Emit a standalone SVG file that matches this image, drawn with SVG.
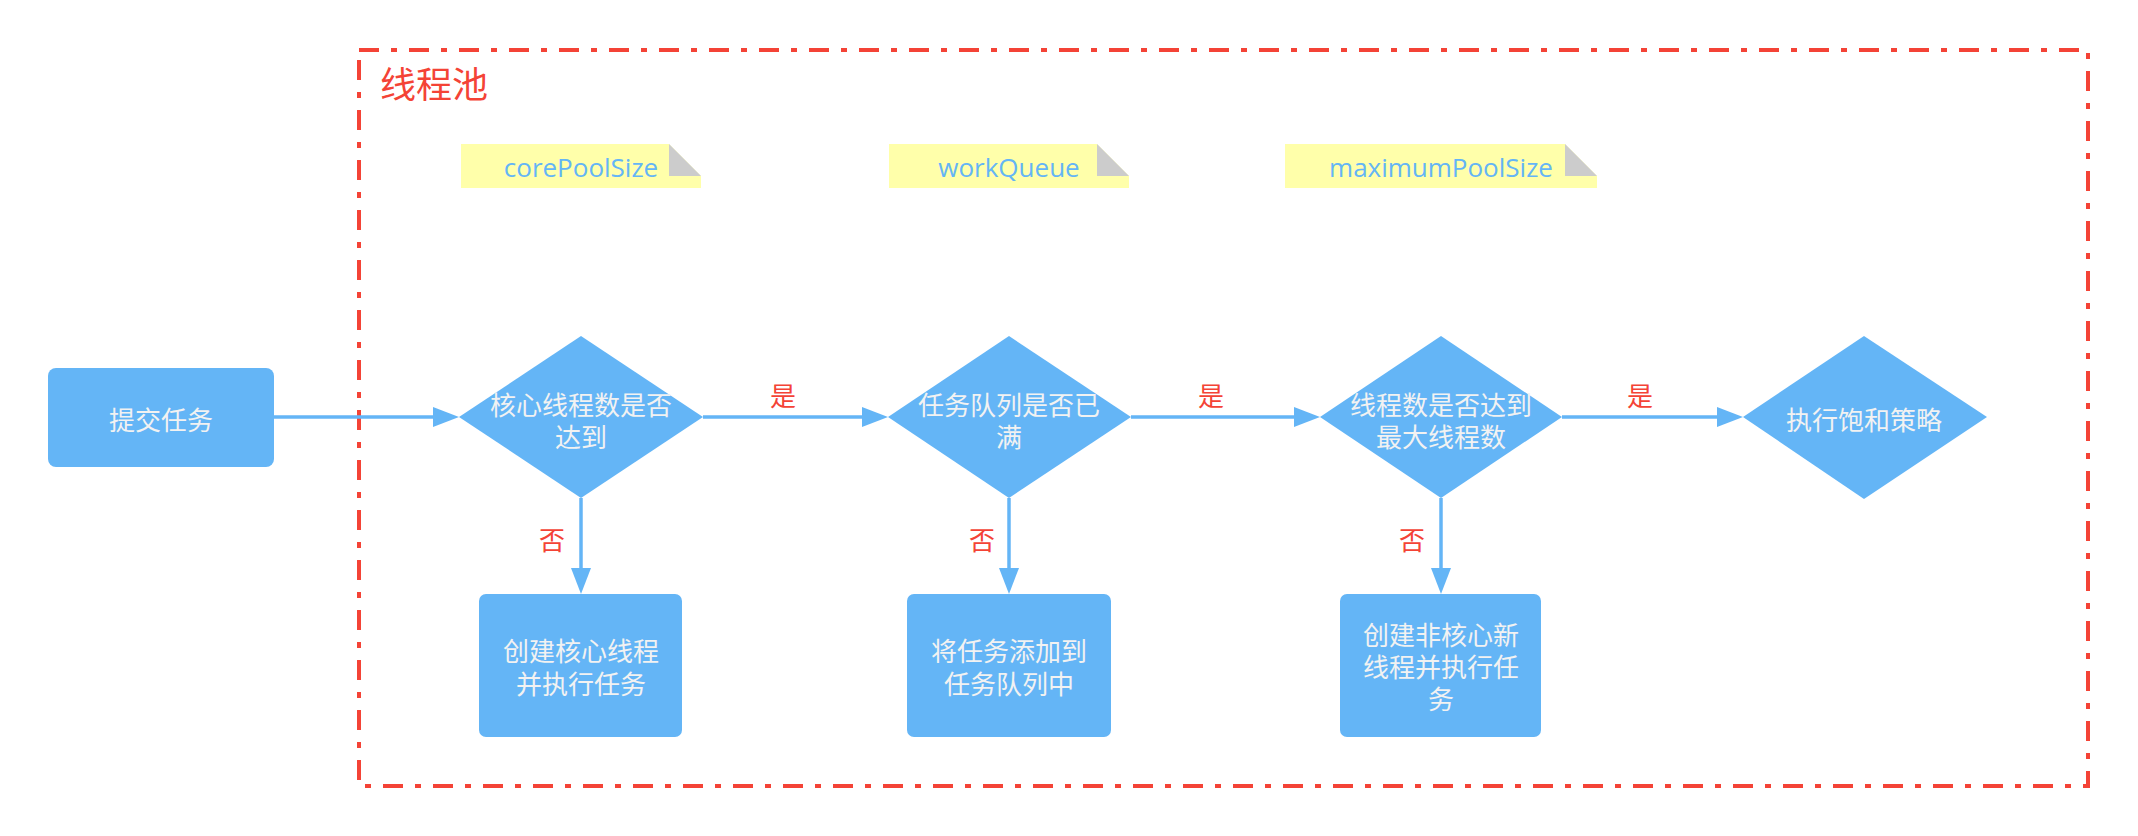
<svg xmlns="http://www.w3.org/2000/svg" width="2138" height="836" viewBox="0 0 2138 836">
<style>
.shape{fill:#64b5f6;}
.t{font-family:"Noto Sans CJK SC","Noto Sans",sans-serif;font-size:26px;fill:#f2f2f2;text-anchor:middle;}
.lbl{font-family:"Noto Sans CJK SC","Noto Sans",sans-serif;font-size:26px;fill:#f44336;text-anchor:middle;}
.note{fill:#ffffaa;}
.fold{fill:#cccccc;}
.nt{font-family:"Open Sans","Noto Sans",sans-serif;font-size:26px;fill:#64b5f6;text-anchor:middle;}
.conn{stroke:#64b5f6;stroke-width:3.5;fill:none;}
.frame{stroke:#f44336;stroke-width:4;fill:none;stroke-dasharray:20 12 6 12;}
</style>
<defs>
<marker id="arr" markerUnits="userSpaceOnUse" markerWidth="26" markerHeight="20" viewBox="0 0 26 20" refX="0" refY="10" orient="auto">
<path d="M0,0 L26,10 L0,20 Z" fill="#64b5f6"/>
</marker>
</defs>
<rect width="2138" height="836" fill="#ffffff"/>

<g id="pool">
<path class="frame" d="M359,50 L2088,50 L2088,786 L359,786 Z"/>
<text x="380" y="98" font-family="Noto Sans CJK SC,Noto Sans,sans-serif" font-size="36" fill="#f44336">线程池</text>
</g>

<g id="note-corePoolSize">
<polygon class="note" points="461,144 669,144 701,176 701,188 461,188"/>
<polygon class="fold" points="669,144 669,176 701,176"/>
<text class="nt" x="581" y="177">corePoolSize</text>
</g>
<g id="note-workQueue">
<polygon class="note" points="889,144 1097,144 1129,176 1129,188 889,188"/>
<polygon class="fold" points="1097,144 1097,176 1129,176"/>
<text class="nt" x="1009" y="177">workQueue</text>
</g>
<g id="note-maximumPoolSize">
<polygon class="note" points="1285,144 1565,144 1597,176 1597,188 1285,188"/>
<polygon class="fold" points="1565,144 1565,176 1597,176"/>
<text class="nt" x="1441" y="177">maximumPoolSize</text>
</g>

<g id="submit">
<rect class="shape" x="48" y="368" width="226" height="99" rx="8"/>
<text class="t" x="161" y="430">提交任务</text>
</g>

<g id="d-core">
<polygon class="shape" points="581,336 703,417 581,498 459,417"/>
<text class="t" x="581" y="415">核心线程数是否<tspan x="581" dy="32">达到</tspan></text>
</g>
<g id="d-queue">
<polygon class="shape" points="1009,336 1131,417 1009,498 888,417"/>
<text class="t" x="1009" y="415">任务队列是否已<tspan x="1009" dy="32">满</tspan></text>
</g>
<g id="d-max">
<polygon class="shape" points="1441,336 1562,417 1441,498 1320,417"/>
<text class="t" x="1441" y="415">线程数是否达到<tspan x="1441" dy="32">最大线程数</tspan></text>
</g>
<g id="d-reject">
<polygon class="shape" points="1864,336 1987,417 1864,499 1743,417"/>
<text class="t" x="1864" y="430">执行饱和策略</text>
</g>

<g id="b-core">
<rect class="shape" x="479" y="594" width="203" height="143" rx="7"/>
<text class="t" x="581" y="661">创建核心线程<tspan x="581" dy="33">并执行任务</tspan></text>
</g>
<g id="b-queue">
<rect class="shape" x="907" y="594" width="204" height="143" rx="7"/>
<text class="t" x="1009" y="661">将任务添加到<tspan x="1009" dy="33">任务队列中</tspan></text>
</g>
<g id="b-max">
<rect class="shape" x="1340" y="594" width="201" height="143" rx="7"/>
<text class="t" x="1441" y="645">创建非核心新<tspan x="1441" dy="32">线程并执行任</tspan><tspan x="1441" dy="32">务</tspan></text>
</g>

<g id="connectors">
<line class="conn" x1="274" y1="417" x2="433" y2="417" marker-end="url(#arr)"/>
<line class="conn" x1="703" y1="417" x2="862" y2="417" marker-end="url(#arr)"/>
<line class="conn" x1="1131" y1="417" x2="1294" y2="417" marker-end="url(#arr)"/>
<line class="conn" x1="1562" y1="417" x2="1717" y2="417" marker-end="url(#arr)"/>
<line class="conn" x1="581" y1="498" x2="581" y2="568" marker-end="url(#arr)"/>
<line class="conn" x1="1009" y1="498" x2="1009" y2="568" marker-end="url(#arr)"/>
<line class="conn" x1="1441" y1="498" x2="1441" y2="568" marker-end="url(#arr)"/>
<text class="lbl" x="783" y="406">是</text>
<text class="lbl" x="1211" y="406">是</text>
<text class="lbl" x="1640" y="406">是</text>
<text class="lbl" x="552" y="550">否</text>
<text class="lbl" x="982" y="550">否</text>
<text class="lbl" x="1412" y="550">否</text>
</g>
</svg>
